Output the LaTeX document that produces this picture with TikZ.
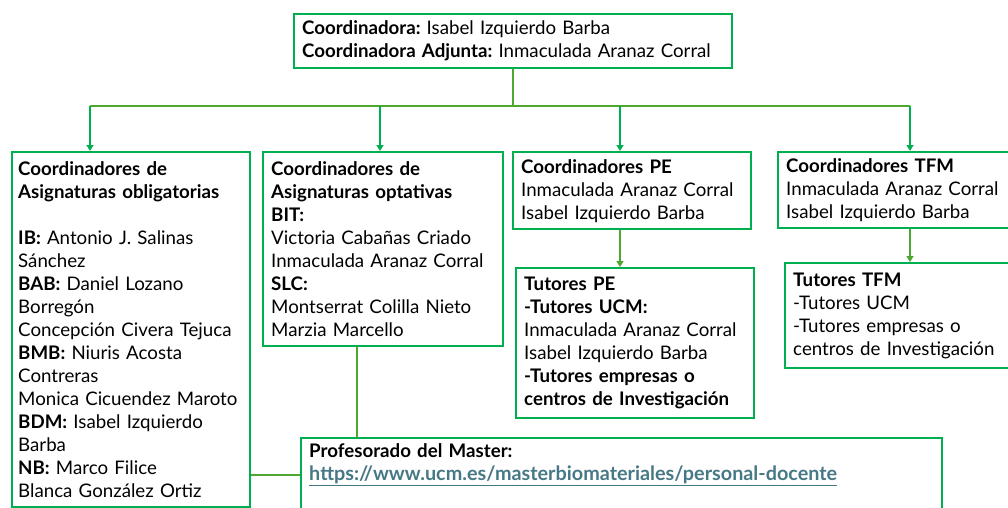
\documentclass[tikz,border=0pt]{standalone}
\usepackage{fontspec}
\setmainfont{Lato}
\usetikzlibrary{arrows.meta}
\definecolor{boxgreen}{RGB}{0,176,80}
\definecolor{linegreen}{RGB}{78,167,46}
\definecolor{linkcol}{RGB}{70,120,134}
\tikzset{caja/.style={draw=boxgreen, line width=2.4pt, anchor=north west, align=left,
  inner xsep=8pt, inner ysep=5pt, font=\fontsize{18.7}{23}\selectfont},
conector/.style={draw=linegreen, line width=2pt},
flecha/.style={conector, -{Triangle[length=6pt,width=7pt]}}}
\newcommand{\enlace}[1]{{\fontsize{19.8}{23}\selectfont\textcolor{linkcol}{\underline{\textbf{#1}}}}}
\frenchspacing

\begin{document}
\begin{tikzpicture}[x=1pt,y=-1pt]

    \useasboundingbox (0,0) rectangle (1008,508);
    \clip (0,0) rectangle (1008,508);

    \node[caja, text width=422pt, minimum height=54pt] (coord) at (293,13)
      {\textbf{Coordinadora:} Isabel Izquierdo Barba\\
       \textbf{Coordinadora Adjunta:} Inmaculada Aranaz Corral};

    \node[caja, inner xsep=6pt, text width=226pt, minimum height=355pt] (oblig) at (11,151)
      {\textbf{Coordinadores de}\\ \textbf{Asignaturas obligatorias}\\[23pt]
       \textbf{IB:} Antonio J. Salinas\\ Sánchez\\
       \textbf{BAB:} Daniel Lozano\\ Borregón\\
       Concepción Civera Tejuca\\
       \textbf{BMB:} Niuris Acosta\\ Contreras\\
       Monica Cicuendez Maroto\\
       \textbf{BDM:} Isabel Izquierdo\\ Barba\\
       \textbf{NB:} Marco Filice\\
       Blanca González Ortiz};

    \node[caja, text width=224pt, minimum height=194pt] (optat) at (262,151)
      {\textbf{Coordinadores de}\\ \textbf{Asignaturas optativas}\\
       \textbf{BIT:}\\ Victoria Cabañas Criado\\ Inmaculada Aranaz Corral\\
       \textbf{SLC:}\\ Montserrat Colilla Nieto\\ Marzia Marcello};

    \node[caja, text width=222pt, minimum height=77pt] (cpe) at (512,151)
      {\textbf{Coordinadores PE}\\ Inmaculada Aranaz Corral\\ Isabel Izquierdo Barba};

    \node[caja, text width=222pt, minimum height=150pt] (tpe) at (515,267)
      {\textbf{Tutores PE}\\ \textbf{-Tutores UCM:}\\
       Inmaculada Aranaz Corral\\ Isabel Izquierdo Barba\\
       \textbf{-Tutores empresas o}\\ \textbf{centros de Investigación}};

    \node[caja, text width=230pt, minimum height=76pt] (ctfm) at (777,151)
      {\textbf{Coordinadores TFM}\\ Inmaculada Aranaz Corral\\ Isabel Izquierdo Barba};

    \node[caja, text width=230pt, minimum height=105pt] (ttfm) at (784,262)
      {\textbf{Tutores TFM}\\ -Tutores UCM\\ -Tutores empresas o\\ centros de Investigación};

    \node[caja, text width=625pt, minimum height=90pt] (prof) at (300,437)
      {\textbf{Profesorado del Master:}\\
       \enlace{https://www.ucm.es/masterbiomateriales/personal-docente}\\ ~\\ ~};

    % ramas de la primera fila
    \coordinate (b1) at (90,106);
    \coordinate (b2) at (380,106);
    \coordinate (b3) at (620,106);
    \coordinate (b4) at (910,106);
    \draw[conector] (coord.south) -- (coord.south |- b1);
    \draw[conector] (b1) -- (b4);
    \foreach \b/\n in {b1/oblig,b2/optat,b3/cpe,b4/ctfm}
    \draw[flecha, draw=boxgreen, fill=boxgreen] (\b) -- (\b |- \n.north);

    \draw[flecha, fill=linegreen] (b3 |- cpe.south) -- (b3 |- tpe.north);
    \draw[flecha, fill=linegreen] (b4 |- ctfm.south) -- (b4 |- ttfm.north);

    % profesorado
    \coordinate (p1) at (357,437);
    \coordinate (p2) at (300,475);
    \draw[conector] (p1 |- optat.south) -- (p1 |- prof.north);
    \draw[conector] (oblig.east |- p2) -- (prof.west |- p2);

\end{tikzpicture}
\end{document}
